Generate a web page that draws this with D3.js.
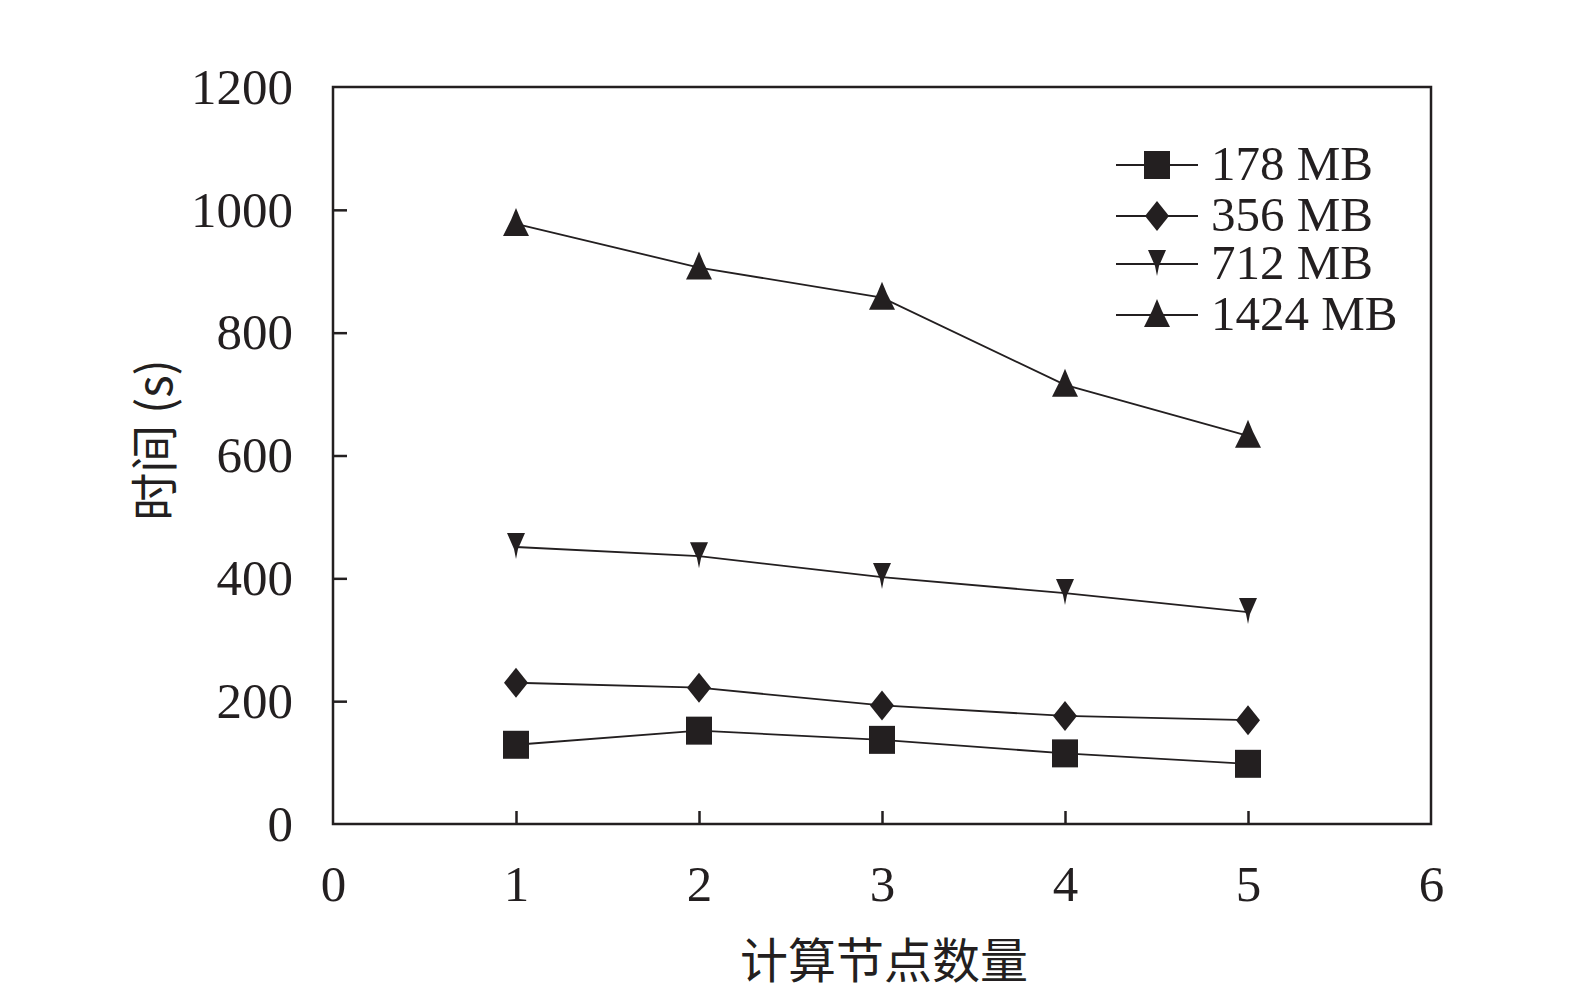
<!DOCTYPE html>
<html>
<head>
<meta charset="utf-8">
<script src="https://cdn.jsdelivr.net/npm/d3@7"></script>
<style>
  body { margin: 0; background: #fff; }
  svg text { fill: #231f20; }
</style>
</head>
<body>
<div id="chart"></div>
<script>
let width = 1575;
let height = 991;

// data
let nodes = [1, 2, 3, 4, 5];
let seriesNames = ["178 MB", "356 MB", "712 MB", "1424 MB"];
let time178 = [129, 152, 137, 115, 98];
let time356 = [230, 222, 193, 176, 169];
let time712 = [451, 436, 402, 376, 345];
let time1424 = [977, 906, 857, 715, 632];
let xTicks = [0, 1, 2, 3, 4, 5, 6];
let yTicks = [0, 200, 400, 600, 800, 1000, 1200];

let allSeries = [time178, time356, time712, time1424];
let markerTypes = ["square", "diamond", "down", "up"];

let ink = "#231f20";
let margin = { left: 333, right: 1431, top: 87, bottom: 824 };

let x = d3.scaleLinear().domain([0, 6]).range([margin.left, margin.right]);
let y = d3.scaleLinear().domain([0, 1200]).range([margin.bottom, margin.top]);

let svg = d3.select("#chart")
    .append("svg")
    .attr("width", width)
    .attr("height", height);

// marker shapes, drawn around (0,0)
function markerPath(type) {
    if (type == "square") {
        return "M-13,-14H13V14H-13Z";
    }
    if (type == "diamond") {
        return "M0,-15L12,0L0,15L-12,0Z";
    }
    if (type == "down") {
        return "M-9,-14H9L2,2L0,12L-2,2Z";
    }
    return "M0,-16L5,-4L13,12H-13L-5,-4Z";
}

// frame
svg.append("rect")
    .attr("x", margin.left)
    .attr("y", margin.top)
    .attr("width", margin.right - margin.left)
    .attr("height", margin.bottom - margin.top)
    .attr("fill", "none")
    .attr("stroke", ink)
    .attr("stroke-width", 2.5);

// axes with inward ticks
let xAxis = svg.append("g")
    .attr("transform", "translate(0," + margin.bottom + ")")
    .call(d3.axisBottom(x).tickValues(xTicks).tickFormat(d3.format("d"))
        .tickSizeInner(-13).tickSizeOuter(0).tickPadding(41));

let yAxis = svg.append("g")
    .attr("transform", "translate(" + margin.left + ",0)")
    .call(d3.axisLeft(y).tickValues(yTicks).tickFormat(d3.format("d"))
        .tickSizeInner(-14).tickSizeOuter(0).tickPadding(40));

[xAxis, yAxis].forEach(function (ax) {
    ax.select(".domain").remove();
    ax.selectAll(".tick line").attr("stroke", ink).attr("stroke-width", 2.5);
    ax.selectAll(".tick text")
        .attr("font-family", "'Liberation Serif', 'Times New Roman', serif")
        .attr("font-size", 51)
        .attr("fill", ink);
});
xAxis.selectAll(".tick text").attr("dy", "0.71em");
// no tick marks on the frame corners
xAxis.selectAll(".tick line").filter(function (d) { return d == 0 || d == 6; }).remove();
yAxis.selectAll(".tick line").filter(function (d) { return d == 0 || d == 1200; }).remove();

// series
let line = d3.line()
    .x(function (d, i) { return x(nodes[i]); })
    .y(function (d) { return y(d); });

allSeries.forEach(function (values, s) {
    svg.append("path")
        .attr("d", line(values))
        .attr("fill", "none")
        .attr("stroke", ink)
        .attr("stroke-width", 1.8);

    svg.selectAll(".m" + s)
        .data(values)
        .enter()
        .append("path")
        .attr("class", "m" + s)
        .attr("d", markerPath(markerTypes[s]))
        .attr("transform", function (d, i) { return "translate(" + x(nodes[i]) + "," + y(d) + ")"; })
        .attr("fill", ink);
});

// legend
let legend = svg.append("g");
let legendRows = [165, 216, 264, 315];
seriesNames.forEach(function (name, s) {
    let g = legend.append("g").attr("transform", "translate(1116," + legendRows[s] + ")");
    g.append("line")
        .attr("x1", 0)
        .attr("x2", 82)
        .attr("stroke", ink)
        .attr("stroke-width", 2);
    g.append("path")
        .attr("d", markerPath(markerTypes[s]))
        .attr("transform", "translate(41,0)")
        .attr("fill", ink);
    g.append("text")
        .attr("x", 95)
        .attr("y", 15)
        .attr("font-family", "'Liberation Serif', 'Times New Roman', serif")
        .attr("font-size", 49)
        .text(name);
});

// axis titles
svg.append("text")
    .attr("x", 884)
    .attr("y", 978)
    .attr("text-anchor", "middle")
    .attr("font-family", "'Noto Sans CJK SC', sans-serif")
    .attr("font-size", 48)
    .text("计算节点数量");

svg.append("text")
    .attr("transform", "translate(172,440) rotate(-90)")
    .attr("text-anchor", "middle")
    .attr("font-family", "'Noto Sans CJK SC', sans-serif")
    .attr("font-size", 48)
    .text("时间 (s)");
</script>
</body>
</html>
